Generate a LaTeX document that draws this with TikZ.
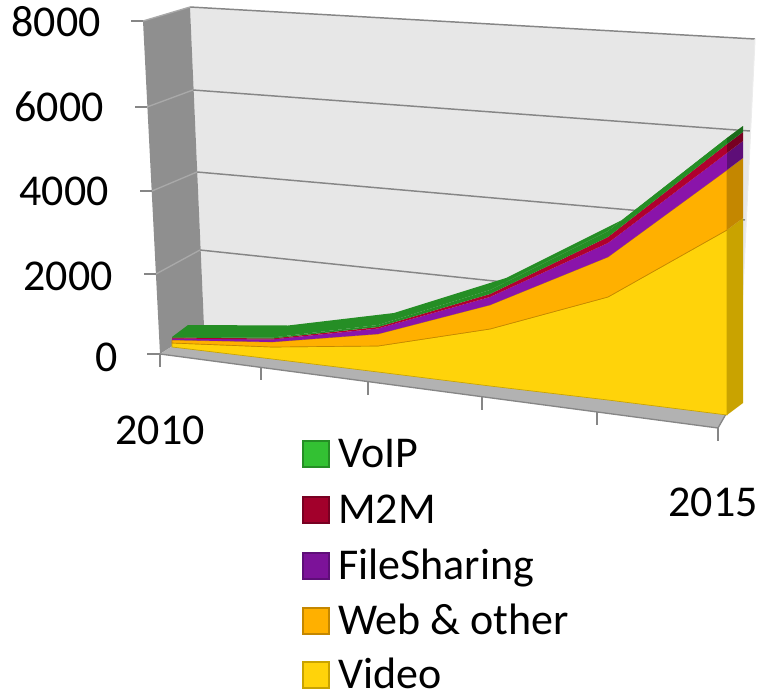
\documentclass[tikz,border=0pt]{standalone}
\usepackage{fontspec}
\setmainfont{Carlito}
\definecolor{wallback}{HTML}{E7E7E7}
\definecolor{wallleft}{HTML}{8F8F8F}
\definecolor{floorc}{HTML}{B2B2B2}
\definecolor{gridc}{HTML}{868686}
\definecolor{gridl}{HTML}{A9A9A9}
\definecolor{voiptop}{HTML}{258E25}
\definecolor{voipside}{HTML}{1B6B1B}
\definecolor{voipleg}{HTML}{33C133}
\definecolor{m2mc}{HTML}{B0002F}
\definecolor{m2mside}{HTML}{780022}
\definecolor{fsc}{HTML}{8A14AA}
\definecolor{fsside}{HTML}{5E0E78}
\definecolor{webc}{HTML}{FFB000}
\definecolor{webside}{HTML}{C48700}
\definecolor{videoc}{HTML}{FFD30A}
\definecolor{videoside}{HTML}{C9A300}
\tikzset{
  gridline/.style={draw=gridc, line width=1.1pt},
  leftgrid/.style={draw=gridl, line width=1pt},
  tickline/.style={draw=gridc, line width=1.2pt},
  axislabel/.style={font=\fontsize{33}{38}\selectfont, inner sep=0pt},
  legendlabel/.style={font=\fontsize{33}{38}\selectfont, inner sep=0pt, anchor=base west, text depth=0pt},
  legendbox/.style={line width=1.2pt},
}
\begin{document}
\begin{tikzpicture}[x=0.75pt,y=-0.75pt]
\useasboundingbox (0,0) rectangle (764,696);
% back wall
\fill[wallback] (190,7) -- (755,39) -- (738,393) -- (204,326) -- cycle;
\draw[gridline] (190,7) -- (755,39);
\draw[gridline] (193,90) -- (750,131);
\draw[gridline] (197,172) -- (745,220);
\draw[gridline] (200,250) -- (741,307);
\draw[draw=white!85!gray, line width=0.8pt] (755,39) -- (738,393);
% left wall
\fill[wallleft] (143,21) -- (190,7) -- (204,326) -- (160,354) -- cycle;
\draw[leftgrid] (143,21) -- (190,7);
\draw[leftgrid] (147,107) -- (193,90);
\draw[leftgrid] (152,191) -- (197,172);
\draw[leftgrid] (156,274) -- (200,250);
% left ticks
\draw[tickline] (131,21) -- (143,21);
\draw[tickline] (135,107) -- (147,107);
\draw[tickline] (140,191) -- (152,191);
\draw[tickline] (144,274) -- (156,274);
\draw[tickline] (147,354) -- (160,354);
% floor
\fill[floorc] (160,354) -- (204,326) -- (738,393) -- (718,428) -- cycle;
\draw[draw=gridc, line width=1pt] (160,354) -- (718,428) -- (738,393);
% floor ticks
\foreach \tx/\ty in {160/354,261/367.4,368/381.6,482/396.7,597/412,718/428} {
  \draw[tickline] (\tx,\ty) -- (\tx,\ty+13);
}
% ribbon: top face (VoIP)
\fill[voiptop] (172,337) -- (272,337.5) -- (378,325) -- (490,290) -- (608,231) -- (727,138)
  -- (743,126) -- (624,219) -- (506,278) -- (394,313) -- (288,325.5) -- (188,325) -- cycle;
% front faces
\fill[videoc, draw=videoside, line width=0.5pt] (172,347) -- (272,359) -- (378,372) -- (490,386) -- (608,400) -- (727,415)
  -- (727,230) -- (608,297) -- (490,329) -- (378,346) -- (272,347) -- (172,343) -- cycle;
\fill[webc, draw=webside, line width=0.5pt] (172,343) -- (272,347) -- (378,346) -- (490,329) -- (608,297) -- (727,230)
  -- (727,170) -- (608,257) -- (490,305) -- (378,334) -- (272,342) -- (172,340) -- cycle;
\fill[fsc] (172,340) -- (272,342) -- (378,334) -- (490,305) -- (608,257) -- (727,170)
  -- (727,153) -- (608,243) -- (490,297) -- (378,328.5) -- (272,339.5) -- (172,338.5) -- cycle;
\fill[m2mc] (172,338.5) -- (272,339.5) -- (378,328.5) -- (490,297) -- (608,243) -- (727,153)
  -- (727,144) -- (608,237) -- (490,294) -- (378,327) -- (272,338.5) -- (172,337.5) -- cycle;
\fill[voiptop] (172,337.5) -- (272,338.5) -- (378,327) -- (490,294) -- (608,237) -- (727,144)
  -- (727,138) -- (608,231) -- (490,290) -- (378,325) -- (272,337.5) -- (172,337) -- cycle;
% right side faces
\fill[videoside] (727,415) -- (727,230) -- (743,218) -- (743,403) -- cycle;
\fill[webside] (727,230) -- (727,170) -- (743,158) -- (743,218) -- cycle;
\fill[fsside] (727,170) -- (727,153) -- (743,141) -- (743,158) -- cycle;
\fill[m2mside] (727,153) -- (727,144) -- (743,132) -- (743,141) -- cycle;
\fill[voipside] (727,144) -- (727,138) -- (743,126) -- (743,132) -- cycle;
% axis labels
\node[axislabel, anchor=east] (y8) at (101,22) {8000};
\node[axislabel, anchor=east] (y6) at (104,107) {6000};
\node[axislabel, anchor=east] (y4) at (109,191) {4000};
\node[axislabel, anchor=east] (y2) at (113,276) {2000};
\node[axislabel, anchor=east] (y0) at (118,357) {0};
\node[axislabel] (x2010) at (160,430) {2010};
\node[axislabel] (x2015) at (713,502) {2015};
% legend
\filldraw[legendbox, fill=voipleg, draw=voiptop] (303,441) rectangle (329,467);
\filldraw[legendbox, fill=m2mc!92!black, draw=m2mside] (303,497) rectangle (329,523);
\filldraw[legendbox, fill=fsc!90!black, draw=fsside] (303,553) rectangle (329,579);
\filldraw[legendbox, fill=webc, draw=webside] (303,608) rectangle (329,634);
\filldraw[legendbox, fill=videoc, draw=videoside] (303,662) rectangle (329,688);
\node[legendlabel] (lvoip) at (338,467) {VoIP};
\node[legendlabel] (lm2m) at (338,523) {M2M};
\node[legendlabel] (lfs) at (338,579) {FileSharing};
\node[legendlabel] (lweb) at (338,634) {Web \& other};
\node[legendlabel] (lvideo) at (338,688) {Video};
\end{tikzpicture}
\end{document}
